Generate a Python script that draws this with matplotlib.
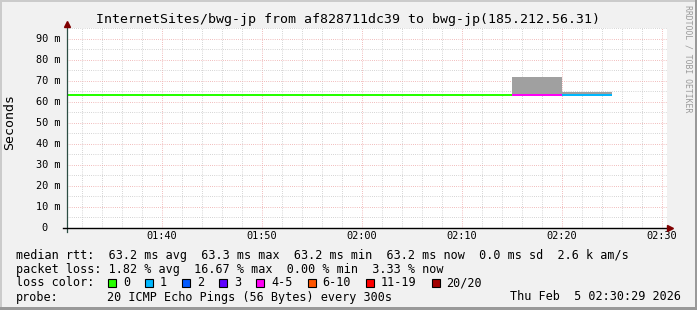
import matplotlib
matplotlib.use('Agg')
import matplotlib.pyplot as plt
from matplotlib.patches import Rectangle
from matplotlib.lines import Line2D
import matplotlib.transforms as mtrans

W, H = 697, 310
MONO = 'DejaVu Sans Mono'
C_BACK = '#f1f1f1'; C_AXIS = '#2c4d43'; C_ARROW = '#7f0000'
C_MINOR = '#c8c8c8'; C_MAJOR = '#eda8a8'; C_SMOKE = '#a0a0a0'
CHAR = 7.1  # legend char width, px

# ---- data: 5 minute bins, minutes after 01:30 ----
bin_start = [0, 5, 10, 15, 20, 25, 30, 35, 40, 45, 50]
median_ms = [63.2, 63.2, 63.2, 63.2, 63.2, 63.2, 63.2, 63.3, 63.2, 63.2, 63.2]
smoke_lo = [63.1, 63.1, 63.1, 63.1, 63.1, 63.1, 63.1, 63.2, 63.1, 63.1, 63.1]
smoke_hi = [63.3, 63.3, 63.3, 63.3, 63.3, 63.3, 63.3, 63.4, 63.3, 71.7, 64.5]
loss_cnt = [0, 0, 0, 0, 0, 0, 0, 0, 0, 4, 1]

loss_labels = ['0', '1', '2', '3', '4-5', '6-10', '11-19', '20/20']
loss_upper = [0, 1, 2, 3, 5, 10, 19, 20]
loss_colors = ['#26ff00', '#00b8ff', '#0059ff', '#5e00ff', '#ff00f5',
               '#ff5500', '#ff0000', '#a10000']

xtick_pos = [10, 20, 30, 40, 50, 60]
xtick_labels = ['01:40', '01:50', '02:00', '02:10', '02:20', '02:30']
ytick_pos = [0, 10, 20, 30, 40, 50, 60, 70, 80, 90]
ytick_labels = ['0', '10 m', '20 m', '30 m', '40 m', '50 m', '60 m', '70 m', '80 m', '90 m']


def fx(x):
    return x / W


def fy(y):
    return 1 - y / H


def loss_color(n):
    for up, c in zip(loss_upper, loss_colors):
        if n <= up:
            return c
    return loss_colors[-1]


fig = plt.figure(figsize=(W / 100, H / 100), dpi=100, facecolor=C_BACK)
ax = fig.add_axes([fx(67), fy(228), 600 / W, 200 / H])
ax.set_facecolor('white')
ax.set_xlim(0.5, 60.5)
ax.set_ylim(0, 95)
for s in ax.spines.values():
    s.set_visible(False)

# grid
dot = (0, (0.72, 1.44))
ax.set_xticks(xtick_pos)
ax.set_xticks(range(2, 61, 2), minor=True)
ax.set_yticks(ytick_pos)
ax.set_yticks(range(5, 96, 10), minor=True)
ax.grid(which='minor', color=C_MINOR, linestyle=dot, linewidth=0.72)
ax.grid(which='major', color=C_MAJOR, linestyle=dot, linewidth=0.72)
ax.set_axisbelow(True)
ax.tick_params(which='both', length=0, labelleft=False)
ax.set_xticklabels(xtick_labels, fontfamily=MONO, fontsize=7.4)
ax.tick_params(axis='x', pad=2.2)

# y labels
ytrans = mtrans.blended_transform_factory(ax.transAxes, ax.transData)
for v, lab in zip(ytick_pos, ytick_labels):
    dx = -7 if lab != '0' else -19.4
    ax.text(0, v, lab, ha='right', va='center', fontfamily=MONO, fontsize=7.4,
            transform=mtrans.offset_copy(ytrans, fig=fig, x=dx, units='dots'))

# smoke + median
ax.bar(bin_start, [h - l for h, l in zip(smoke_hi, smoke_lo)], bottom=smoke_lo,
       width=5, align='edge', color=C_SMOKE, linewidth=0, zorder=2)
ax.hlines(median_ms, bin_start, [s + 5 for s in bin_start],
          colors=[loss_color(n) for n in loss_cnt], linewidth=1.44,
          capstyle='butt', zorder=3)

# axes lines and arrows
fig.add_artist(Line2D([fx(67), fx(67)], [fy(232), fy(24)], color=C_AXIS, lw=0.9))
fig.add_artist(Line2D([fx(63), fx(669)], [fy(228), fy(228)], color='black', lw=1.0))
fig.add_artist(Line2D([fx(67)], [fy(24)], marker='^', markersize=5, color=C_ARROW, lw=0))
fig.add_artist(Line2D([fx(670)], [fy(228)], marker='>', markersize=5, color=C_ARROW, lw=0))

# border shading
fig.add_artist(Rectangle((0, fy(2)), 1, 2 / H, transform=fig.transFigure, color='#cbcbcb', lw=0))
fig.add_artist(Rectangle((0, 0), 2 / W, 1, transform=fig.transFigure, color='#cbcbcb', lw=0))
fig.add_artist(Rectangle((0, 0), 1, 3 / H, transform=fig.transFigure, color='#999999', lw=0))
fig.add_artist(Rectangle((1 - 2 / W, 0), 2 / W, 1, transform=fig.transFigure, color='#999999', lw=0))

# texts
fig.text(fx(348), fy(19), 'InternetSites/bwg-jp from af828711dc39 to bwg-jp(185.212.56.31)',
         ha='center', va='center', fontfamily=MONO, fontsize=9.5)
fig.text(fx(10), fy(122), 'Seconds', rotation=90, ha='center', va='center',
         fontfamily=MONO, fontsize=9.5)
fig.text(fx(688), fy(5), 'RRDTOOL / TOBI OETIKER', rotation=270, ha='center', va='top',
         fontfamily=MONO, fontsize=5.9, color='#9a9a9a')

LF = 8.5
fig.text(fx(16), fy(255), 'median rtt:  63.2 ms avg  63.3 ms max  63.2 ms min  63.2 ms now  0.0 ms sd  2.6 k am/s',
         ha='left', va='center', fontfamily=MONO, fontsize=LF)
fig.text(fx(16), fy(269), 'packet loss: 1.82 % avg  16.67 % max  0.00 % min  3.33 % now',
         ha='left', va='center', fontfamily=MONO, fontsize=LF)

fig.text(fx(16), fy(283), 'loss color:', ha='left', va='center', fontfamily=MONO, fontsize=LF)
x = 108
for lab, c in zip(loss_labels, loss_colors):
    fig.add_artist(Rectangle((fx(x), fy(287)), 8 / W, 8 / H, transform=fig.transFigure,
                             facecolor=c, edgecolor='black', lw=0.8))
    fig.text(fx(x + 15), fy(283), lab, ha='left', va='center', fontfamily=MONO, fontsize=LF)
    x += 30 + len(lab) * CHAR

fig.text(fx(16), fy(297), 'probe:', ha='left', va='center', fontfamily=MONO, fontsize=LF)
fig.text(fx(107), fy(297), '20 ICMP Echo Pings (56 Bytes) every 300s',
         ha='left', va='center', fontfamily=MONO, fontsize=LF)
fig.text(fx(681), fy(297), 'Thu Feb  5 02:30:29 2026',
         ha='right', va='center', fontfamily=MONO, fontsize=LF)

fig.savefig('out.png', dpi=100, facecolor=C_BACK)
